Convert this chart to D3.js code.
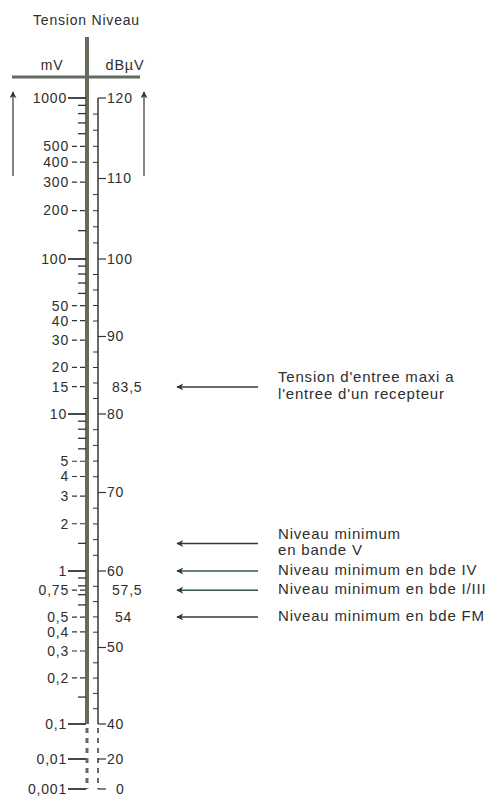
<!DOCTYPE html>
<html>
<head>
<meta charset="utf-8">
<script src="https://cdn.jsdelivr.net/npm/d3@7"></script>
<style>
  body { margin: 0; background: #fff; }
  svg text { font-family: "Liberation Sans", Arial, sans-serif; fill: #2e2e2e; letter-spacing: 0.8px; }
</style>
</head>
<body>
<div id="chart"></div>
<script>
// mV values with a label on the left of the ladder
const mvLabels = [1000, 500, 400, 300, 200, 100, 50, 40, 30, 20, 15, 10, 5, 4, 3, 2, 1, 0.75, 0.5, 0.4, 0.3, 0.2, 0.1, 0.01, 0.001];
const mvMinor = [900, 800, 700, 600, 150, 90, 80, 70, 60, 9, 8, 7, 6, 1.5, 0.9, 0.8, 0.7, 0.6, 0.15];
// dBµV values labelled on the right
const dbTicked = [120, 110, 100, 90, 80, 70, 60, 50, 40, 20, 0];
const dbPlain = [83.5, 57.5, 54];
// annotations: dB level + text lines
const notes = [
  { db: 83.5, lines: ["Tension d'entree maxi a", "l'entree d'un recepteur"], color: "#3a3a3a" },
  { db: 63.5, lines: ["Niveau minimum", "en bande V"], color: "#2c3a3a" },
  { db: 60, lines: ["Niveau minimum en bde IV"], color: "#2f5555" },
  { db: 57.5, lines: ["Niveau minimum en bde I/III"], color: "#2f5555" },
  { db: 54, lines: ["Niveau minimum en bde FM"], color: "#3a3a3a" }
];

const W = 497, H = 796;
const svg = d3.select("#chart").append("svg").attr("width", W).attr("height", H);

// scale is broken below 40 dB (compressed part), slightly uneven in the print
const y = d3.scaleLinear()
  .domain([0, 20, 40, 60, 80, 100, 120])
  .range([789, 759, 724, 571, 414, 259, 98]);
const dbOf = mv => 60 + 20 * Math.log10(mv);
const fmt = v => String(v).replace(".", ",");
const isDecade = d => Number.isInteger(Math.log10(d));

const xMain = 87, xThin = 98;
const ink = "#333";
const ladder = "#616b5e";

svg.append("defs").append("marker")
  .attr("id", "head").attr("viewBox", "0 0 10 10")
  .attr("refX", 9).attr("refY", 5)
  .attr("markerWidth", 10).attr("markerHeight", 7)
  .attr("markerUnits", "userSpaceOnUse")
  .attr("orient", "auto")
  .append("path").attr("d", "M0,0 L10,5 L0,10 L3,5 Z").attr("fill", ink);

// title + header
svg.append("text").attr("x", 33).attr("y", 25).attr("font-size", 14).text("Tension Niveau");
svg.append("text").attr("x", 52).attr("y", 70).attr("text-anchor", "middle").attr("font-size", 14).text("mV");
svg.append("text").attr("x", 125).attr("y", 70).attr("text-anchor", "middle").attr("font-size", 14.5).text("dBµV");
svg.append("line").attr("x1", 12).attr("x2", 140).attr("y1", 77).attr("y2", 77)
  .attr("stroke", ladder).attr("stroke-width", 3);

// main ladder lines
svg.append("line").attr("x1", xMain).attr("x2", xMain).attr("y1", 37).attr("y2", y(40))
  .attr("stroke", ladder).attr("stroke-width", 4);
svg.append("line").attr("x1", xThin).attr("x2", xThin).attr("y1", y(120)).attr("y2", y(40))
  .attr("stroke", "#444").attr("stroke-width", 1.6);
// dashed part below 40 dB
[xMain, xThin].forEach((x, i) => {
  svg.append("line").attr("x1", x).attr("x2", x).attr("y1", y(40) + 4).attr("y2", y(0))
    .attr("stroke", i ? "#444" : ladder).attr("stroke-width", i ? 1.6 : 3)
    .attr("stroke-dasharray", "5,5");
});

// up arrows
[13, 144].forEach(x => {
  svg.append("line").attr("x1", x).attr("x2", x).attr("y1", 176).attr("y2", 92)
    .attr("stroke", ink).attr("stroke-width", 1.2).attr("marker-end", "url(#head)");
});

// mV minor ticks
svg.selectAll(".mvminor").data(mvMinor).join("line")
  .attr("x1", xMain - 9).attr("x2", xMain - 1)
  .attr("y1", d => y(dbOf(d))).attr("y2", d => y(dbOf(d)))
  .attr("stroke", ink).attr("stroke-width", 1.3);

// dB minor ticks every 2 dB between 40 and 120
const dbMinor = d3.range(42, 120, 2).filter(d => d % 10 !== 0);
svg.selectAll(".dbminor").data(dbMinor).join("line")
  .attr("x1", xThin - 5).attr("x2", xThin)
  .attr("y1", d => y(d)).attr("y2", d => y(d))
  .attr("stroke", ink).attr("stroke-width", 1);

// mV labels and ticks
const mvG = svg.selectAll(".mv").data(mvLabels).join("g")
  .attr("transform", d => `translate(0,${y(dbOf(d))})`);
mvG.append("line")
  .attr("x1", d => isDecade(d) ? 68 : 72)
  .attr("x2", xMain - 1).attr("y1", 0).attr("y2", 0)
  .attr("stroke", ink).attr("stroke-width", d => isDecade(d) ? 1.8 : 1.2)
  .attr("stroke-dasharray", d => isDecade(d) ? null : "5,3");
mvG.append("text").attr("x", d => isDecade(d) ? 67 : 69)
  .attr("dy", "0.35em").attr("text-anchor", "end").attr("font-size", 14)
  .text(d => fmt(d));

// dB labels
const dbG = svg.selectAll(".db").data(dbTicked).join("g")
  .attr("transform", d => `translate(0,${y(d)})`);
dbG.append("line").attr("x1", xThin).attr("x2", 106).attr("y1", 0).attr("y2", 0)
  .attr("stroke", ink).attr("stroke-width", 1.2);
dbG.append("text").attr("x", d => d === 0 ? 116 : 107).attr("dy", "0.35em").attr("font-size", 14).text(d => d);
svg.selectAll(".dbp").data(dbPlain).join("text")
  .attr("x", d => d === 54 ? 115 : 112).attr("y", d => y(d)).attr("dy", "0.35em").attr("font-size", 14)
  .text(d => fmt(d));

// annotation arrows and texts
notes.forEach(n => {
  const yy = y(n.db);
  svg.append("line").attr("x1", 258).attr("x2", 177).attr("y1", yy).attr("y2", yy)
    .attr("stroke", n.color).attr("stroke-width", 1.5).attr("marker-end", "url(#head)");
  const top = n.lines.length > 1 ? yy - 10 : yy - 1.5;
  n.lines.forEach((t, i) => {
    svg.append("text").attr("x", 278).attr("y", top + i * 16.5).attr("dy", "0.35em")
      .attr("font-size", 15).text(t);
  });
});
</script>
</body>
</html>
